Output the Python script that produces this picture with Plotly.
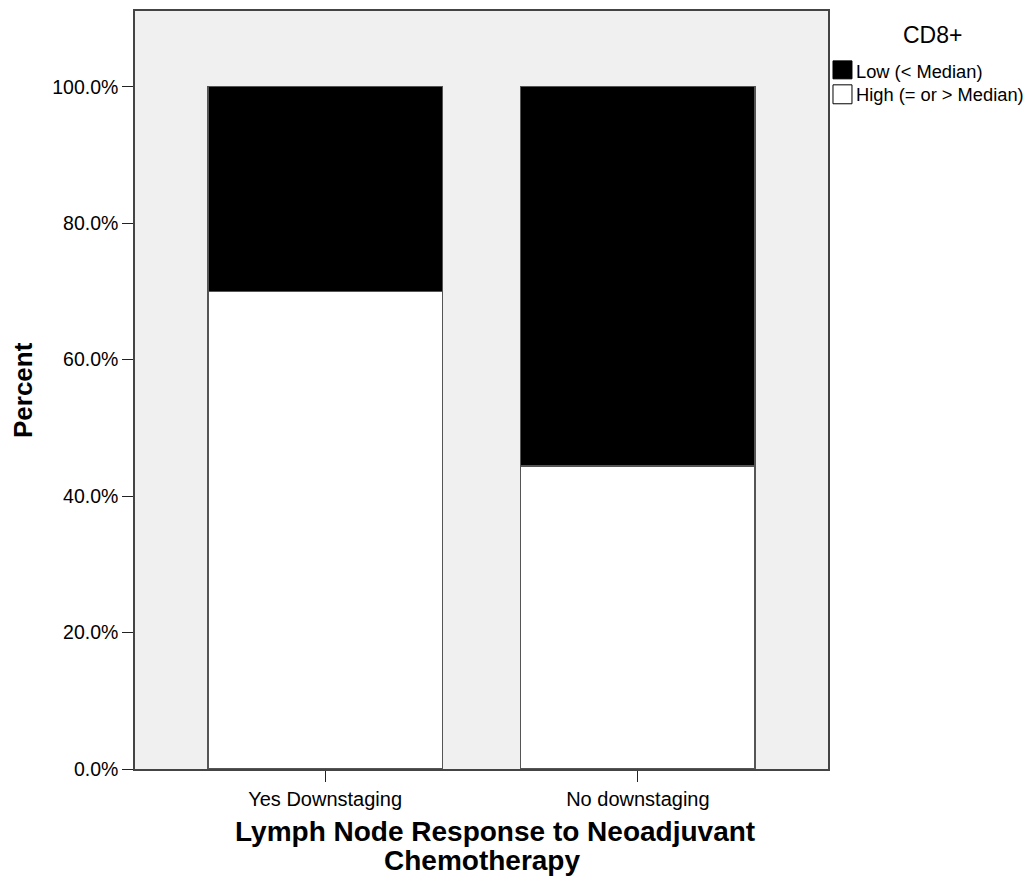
import plotly.graph_objects as go

categories = ["Yes Downstaging", "No downstaging"]
high_pct = [70.0, 44.4]
low_pct = [30.0, 55.6]
y_ticks = [0, 20, 40, 60, 80, 100]
y_tick_labels = ["0.0%", "20.0%", "40.0%", "60.0%", "80.0%", "100.0%"]
x_title_lines = ["Lymph Node Response to Neoadjuvant", "Chemotherapy"]
y_title = "Percent"
legend_title = "CD8+"
legend_names = ["Low (< Median)", "High (= or > Median)"]
legend_colors = ["black", "white"]

font = "Liberation Sans, Arial, sans-serif"
line_col = "#444444"

fig = go.Figure()
fig.add_trace(go.Bar(
    x=categories, y=high_pct, name=legend_names[1],
    marker=dict(color="white", line=dict(color="#555555", width=1.5)),
    width=0.75,
))
fig.add_trace(go.Bar(
    x=categories, y=low_pct, name=legend_names[0],
    marker=dict(color="black", line=dict(color="#555555", width=1.5)),
    width=0.75,
))

fig.update_layout(
    width=1027, height=873,
    barmode="stack",
    paper_bgcolor="white",
    plot_bgcolor="#f0f0f0",
    margin=dict(l=127, r=207, t=1, b=112),
    font=dict(family=font, size=19, color="black"),
    showlegend=False,
)

# Legend drawn manually (SPSS-style compact legend)
fig.add_annotation(text=legend_title, xref="paper", yref="paper",
                   x=1.1501, y=0.9684, xanchor="center", yanchor="middle",
                   showarrow=False, font=dict(size=23))
sw_y = [(0.9342, 0.9105), (0.9026, 0.8776)]
txt_y = [0.9197, 0.8895]
for name, col, (y0, y1), ty in zip(legend_names, legend_colors, sw_y, txt_y):
    fig.add_shape(type="rect", xref="paper", yref="paper",
                  x0=1.0072, x1=1.0346, y0=y1, y1=y0,
                  fillcolor=col, line=dict(color="black", width=1))
    fig.add_annotation(text=name, xref="paper", yref="paper",
                       x=1.0370, y=ty, xanchor="left", yanchor="middle",
                       showarrow=False, font=dict(size=18.3))

fig.add_annotation(text="<b>%s</b>" % x_title_lines[0], xref="paper", yref="paper",
                   x=0.5195, y=-0.0830, xanchor="center", yanchor="middle",
                   showarrow=False, font=dict(size=28))
fig.add_annotation(text="<b>%s</b>" % x_title_lines[1], xref="paper", yref="paper",
                   x=0.5, y=-0.1212, xanchor="center", yanchor="middle",
                   showarrow=False, font=dict(size=28))
fig.add_annotation(text="<b>%s</b>" % y_title, xref="paper", yref="paper",
                   x=-0.1616, y=0.5, xanchor="center", yanchor="middle",
                   textangle=-90, showarrow=False, font=dict(size=26))

fig.update_xaxes(
    range=[-0.608, 1.608],
    showline=True, linecolor=line_col, linewidth=1.5, mirror=True,
    ticks="outside", ticklen=11, tickcolor="#222222",
    showgrid=False,
    tickfont=dict(size=20),
)
fig.update_yaxes(
    range=[0, 111.1],
    tickvals=y_ticks, ticktext=y_tick_labels,
    showline=True, linecolor=line_col, linewidth=1.5, mirror=True,
    ticks="outside", ticklen=11, tickcolor="#222222",
    showgrid=False, zeroline=False,
    tickfont=dict(size=19.5),
)

fig.write_html("out.html")
